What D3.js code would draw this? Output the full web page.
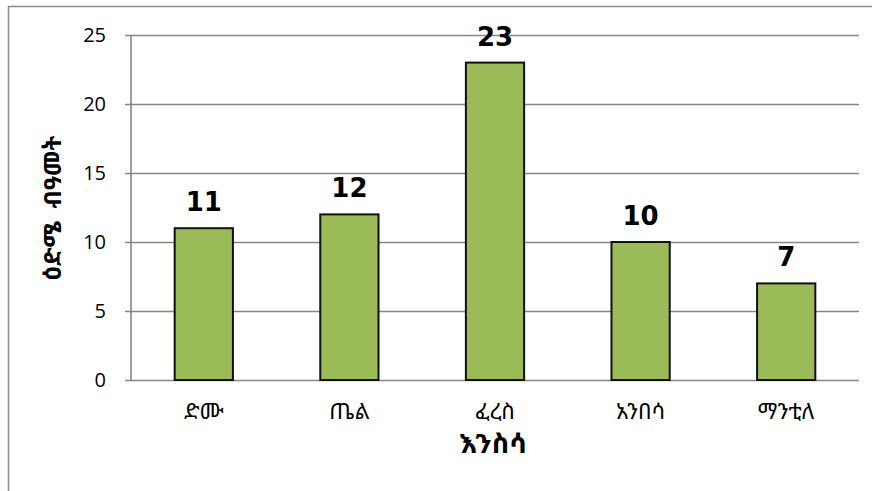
<!DOCTYPE html>
<meta charset="utf-8">
<script src="https://d3js.org/d3.v7.min.js"></script>
<style>
  body { margin: 0; background: #fff; }
</style>
<div id="my_dataviz"></div>
<script>

// data
var animals = ["ድሙ", "ጤል", "ፈረስ", "አንበሳ", "ማንቲለ"];
var ages = [11, 12, 23, 10, 7];
var yTicks = [0, 5, 10, 15, 20, 25];
var xTitle = "እንስሳ";
var yTitle = "ዕድሜ  ብዓመት";

var W = 872, H = 491;
var margin = {top: 35, right: 13, bottom: 111, left: 131},
    width = W - margin.left - margin.right,
    height = H - margin.top - margin.bottom;

var ethFont = "'Noto Sans Ethiopic', 'Abyssinica SIL', 'DejaVu Sans', sans-serif";

var root = d3.select("#my_dataviz")
  .append("svg")
    .attr("width", W)
    .attr("height", H);

// outer chart border (only top and left visible)
root.append("rect")
  .attr("x", 8.5).attr("y", 6.5)
  .attr("width", W + 20).attr("height", H + 20)
  .attr("fill", "none")
  .attr("stroke", "#8c8c8c")
  .attr("stroke-width", 1.5);

var svg = root.append("g")
  .attr("transform", "translate(" + margin.left + "," + margin.top + ")");

var x = d3.scaleBand()
  .domain(animals)
  .range([0, width])
  .paddingInner(0.6)
  .paddingOuter(0.3);

var y = d3.scaleLinear()
  .domain([0, 25])
  .range([height, 0]);

// gridlines + left ticks
svg.append("g")
  .call(d3.axisLeft(y).tickValues(yTicks).tickSize(-width - 6).tickPadding(20))
  .call(function(g) {
    g.select(".domain").remove();
    g.selectAll(".tick line")
      .attr("x1", -6)
      .attr("x2", width)
      .attr("stroke", "#868686")
      .attr("stroke-width", 1.6);
    g.selectAll(".tick text")
      .attr("x", -25)
      .attr("font-family", "'Open Sans', 'Noto Sans', sans-serif")
      .attr("font-size", 20)
      .attr("fill", "#000");
  });

// y axis line
svg.append("line")
  .attr("x1", 0).attr("x2", 0)
  .attr("y1", 0).attr("y2", height)
  .attr("stroke", "#868686")
  .attr("stroke-width", 1.6);

// bars
svg.selectAll(".bar")
  .data(animals)
  .enter().append("rect")
    .attr("class", "bar")
    .attr("x", function(d) { return x(d); })
    .attr("y", function(d, i) { return y(ages[i]); })
    .attr("width", x.bandwidth())
    .attr("height", function(d, i) { return height - y(ages[i]); })
    .attr("fill", "#9BBB59")
    .attr("stroke", "#111")
    .attr("stroke-width", 2);

// value labels
svg.selectAll(".val")
  .data(animals)
  .enter().append("text")
    .attr("class", "val")
    .attr("x", function(d) { return x(d) + x.bandwidth() / 2; })
    .attr("y", function(d, i) { return y(ages[i]) - 17; })
    .attr("text-anchor", "middle")
    .attr("font-family", "'DejaVu Sans', Verdana, sans-serif")
    .attr("font-weight", "bold")
    .attr("font-size", 26)
    .attr("fill", "#000")
    .text(function(d, i) { return ages[i]; });

// category labels
svg.selectAll(".cat")
  .data(animals)
  .enter().append("text")
    .attr("class", "cat")
    .attr("x", function(d) { return x(d) + x.bandwidth() / 2; })
    .attr("y", height + 39)
    .attr("text-anchor", "middle")
    .attr("font-family", ethFont)
    .attr("font-size", 22)
    .attr("fill", "#000")
    .text(function(d) { return d; });

// x title
svg.append("text")
  .attr("x", width / 2 - 2)
  .attr("y", height + 73)
  .attr("text-anchor", "middle")
  .attr("font-family", ethFont)
  .attr("font-weight", "bold")
  .attr("font-size", 27)
  .attr("fill", "#000")
  .text(xTitle);

// y title
root.append("text")
  .attr("transform", "translate(61,208) rotate(-90)")
  .attr("text-anchor", "middle")
  .attr("font-family", ethFont)
  .attr("font-weight", "bold")
  .attr("font-size", 24)
  .attr("fill", "#000")
  .style("white-space", "pre")
  .text(yTitle);

</script>
